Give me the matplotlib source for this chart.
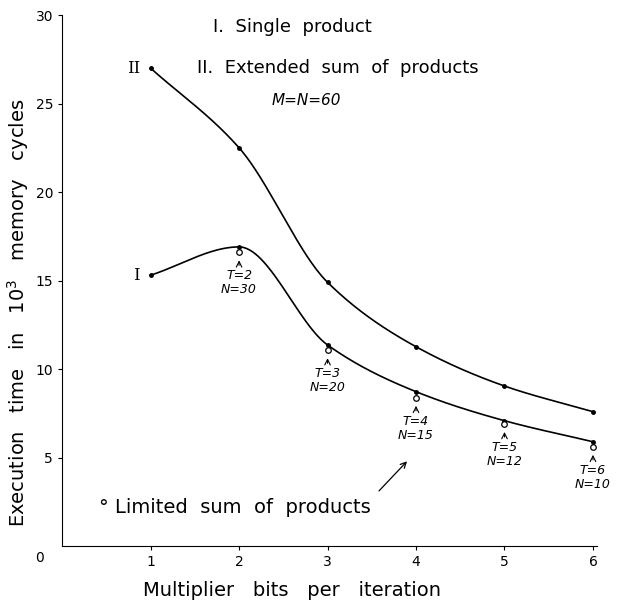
import numpy as np
import matplotlib
matplotlib.use("Agg")
from matplotlib import pyplot as plt

# data
bits = [1, 2, 3, 4, 5, 6]
single = [15.3, 16.9, 11.36, 8.72, 7.08, 5.89]       # curve I
extended = [27.0, 22.5, 14.9, 11.26, 9.04, 7.59]     # curve II
lim_bits = [2, 3, 4, 5, 6]
limited = [16.6, 11.07, 8.38, 6.9, 5.61]              # open circles
lim_labels = ["T=2\nN=30", "T=3\nN=20", "T=4\nN=15", "T=5\nN=12", "T=6\nN=10"]


def pchip(x, y, xs):
    # monotone cubic (Fritsch-Carlson), only used to draw a smooth line
    x = np.asarray(x, float)
    y = np.asarray(y, float)
    h = np.diff(x)
    d = np.diff(y) / h
    m = np.zeros_like(y)
    for k in range(1, len(x) - 1):
        if d[k - 1] * d[k] > 0:
            w1 = 2 * h[k] + h[k - 1]
            w2 = h[k] + 2 * h[k - 1]
            m[k] = (w1 + w2) / (w1 / d[k - 1] + w2 / d[k])
    m[0] = d[0]
    m[-1] = d[-1]
    out = np.empty_like(xs)
    for i, xv in enumerate(xs):
        k = min(np.searchsorted(x, xv, side="right") - 1, len(x) - 2)
        t = (xv - x[k]) / h[k]
        h00 = 2 * t**3 - 3 * t**2 + 1
        h10 = t**3 - 2 * t**2 + t
        h01 = -2 * t**3 + 3 * t**2
        h11 = t**3 - t**2
        out[i] = h00 * y[k] + h10 * h[k] * m[k] + h01 * y[k + 1] + h11 * h[k] * m[k + 1]
    return out


fig = plt.figure(figsize=(6.21, 6.02), dpi=100)
ax = fig.add_axes([0.1, 0.093, 0.862, 0.882])

xs = np.linspace(1, 6, 300)
ax.plot(xs, pchip(bits, single, xs), color="black", lw=1.2)
ax.plot(xs, pchip(bits, extended, xs), color="black", lw=1.2)
ax.plot(bits, single, "o", color="black", ms=2.5)
ax.plot(bits, extended, "o", color="black", ms=2.5)
ax.plot(lim_bits, limited, "o", mfc="white", mec="black", ms=4, mew=0.9)

for xv, yv, lab in zip(lim_bits, limited, lim_labels):
    ax.annotate("", xy=(xv, yv - 0.3), xytext=(xv, yv - 0.9),
                arrowprops=dict(arrowstyle="->", lw=0.8, color="black"))
    ax.text(xv, yv - 0.95, lab, ha="center", va="top", fontsize=9,
            style="italic", linespacing=1.1)

ax.text(0.88, 27.0, "II", ha="right", va="center", fontsize=12, family="serif")
ax.text(0.88, 15.3, "I", ha="right", va="center", fontsize=12, family="serif")

ax.text(1.7, 29.3, "I.  Single  product", fontsize=13, va="center")
ax.text(1.53, 27.0, "II.  Extended  sum  of  products", fontsize=13, va="center")
ax.text(2.37, 25.2, "M=N=60", fontsize=11, style="italic", va="center")

ax.text(0.42, 2.2, "\u00b0 Limited  sum  of  products", fontsize=14, va="center")
ax.annotate("", xy=(3.92, 4.9), xytext=(3.56, 3.0),
            arrowprops=dict(arrowstyle="->", lw=0.9, color="black"))

ax.set_xlim(0, 6.05)
ax.set_ylim(0, 30)
ax.set_xticks([1, 2, 3, 4, 5, 6])
ax.set_yticks([5, 10, 15, 20, 25, 30])
ax.tick_params(labelsize=10, length=3, width=0.8)
ax.spines["top"].set_visible(False)
ax.spines["right"].set_visible(False)
ax.text(-0.25, -0.7, "0", fontsize=10, ha="center", va="center")

ax.set_xlabel("Multiplier   bits   per   iteration", fontsize=14)
ax.set_ylabel("Execution   time   in   $10^3$   memory   cycles", fontsize=14)
ax.xaxis.set_label_coords(0.43, -0.065)
ax.yaxis.set_label_coords(-0.058, 0.44)

fig.savefig("out.png", dpi=100)
